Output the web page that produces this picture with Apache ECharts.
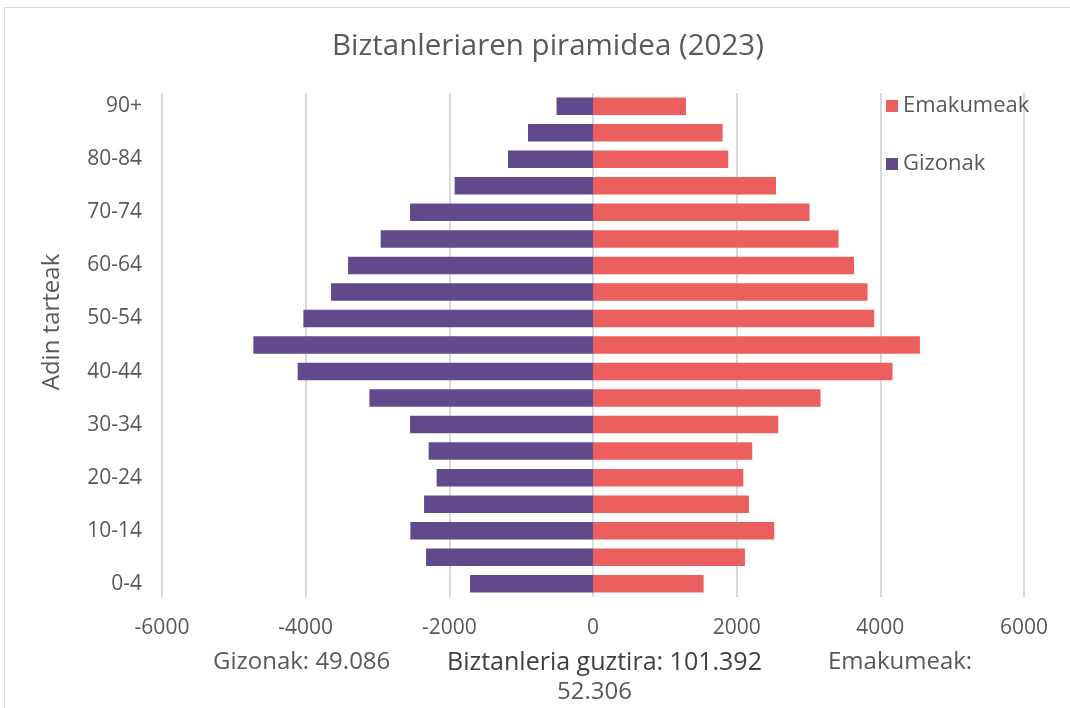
<!DOCTYPE html>
<html>
<head>
<meta charset="utf-8">
<script src="https://cdn.jsdelivr.net/npm/echarts@6/dist/echarts.min.js"></script>
<style>
  html, body { margin: 0; padding: 0; background: #fff; }
  #frame { position: absolute; left: 4px; top: 7px; width: 1080px; height: 720px; border: 1px solid #d9d9d9; }
  #chart { position: absolute; left: 0; top: 0; width: 1070px; height: 708px; }
</style>
</head>
<body>
<div id="frame"></div>
<div id="chart"></div>
<script>
// adin tarteak, behetik gora
const ageGroups = ['0-4', '5-9', '10-14', '15-19', '20-24', '25-29', '30-34', '35-39', '40-44', '45-49',
  '50-54', '55-59', '60-64', '65-69', '70-74', '75-79', '80-84', '85-89', '90+']
const men = [1712, 2324, 2543, 2352, 2177, 2288, 2547, 3113, 4111, 4728,
  4032, 3647, 3410, 2956, 2547, 1926, 1183, 905, 507]
const women = [1540, 2115, 2523, 2171, 2092, 2217, 2579, 3168, 4170, 4551,
  3915, 3822, 3633, 3418, 3015, 2547, 1883, 1804, 1294]
const xTicks = { min: -6000, max: 6000, interval: 2000 }

const TEXT = '#595959'
const FONT = '"Open Sans", sans-serif'

const chart = echarts.init(document.getElementById('chart'))

chart.setOption({
  animation: false,
  textStyle: { fontFamily: FONT },
  title: {
    text: 'Biztanleriaren piramidea (2023)',
    left: 327,
    top: 27,
    textStyle: { fontFamily: FONT, fontSize: 29.5, fontWeight: 'normal', color: TEXT },
  },
  legend: {
    orient: 'vertical',
    left: 881,
    top: 90,
    itemWidth: 12,
    itemHeight: 12,
    itemGap: 36,
    icon: 'rect',
    data: ['Emakumeak', 'Gizonak'],
    textStyle: { fontFamily: FONT, fontSize: 22, color: TEXT },
  },
  grid: { left: 162, right: 46, top: 93, bottom: 111 },
  xAxis: {
    type: 'value',
    min: xTicks.min,
    max: xTicks.max,
    interval: xTicks.interval,
    axisLine: { show: false },
    axisTick: { show: false },
    axisLabel: { fontFamily: FONT, fontSize: 21, color: TEXT, margin: 21, formatter: (v) => String(v) },
    splitLine: { lineStyle: { color: '#d9d9d9', width: 2 } },
  },
  yAxis: {
    type: 'category',
    data: ageGroups,
    axisLine: { show: false },
    axisTick: { show: false },
    axisLabel: { interval: 1, fontFamily: FONT, fontSize: 21, color: TEXT, margin: 20 },
  },
  series: [
    {
      name: 'Gizonak',
      type: 'bar',
      stack: 'pop',
      barCategoryGap: '34%',
      data: men.map((v) => -v),
      itemStyle: { color: '#614A8C' },
    },
    {
      name: 'Emakumeak',
      type: 'bar',
      stack: 'pop',
      barCategoryGap: '34%',
      data: women,
      itemStyle: { color: '#EB5F5E' },
    },
  ],
  graphic: [
    {
      // ardatzaren izenburua
      type: 'text', x: 52, y: 322, rotation: Math.PI / 2,
      style: { text: 'Adin tarteak', fontFamily: FONT, fontSize: 24, fill: TEXT, align: 'center', verticalAlign: 'middle' },
    },
    {
      type: 'text', left: 213, top: 650,
      style: { text: 'Gizonak: 49.086', fontFamily: FONT, fontSize: 24, fill: TEXT },
    },
    {
      type: 'text', left: 447, top: 650,
      style: { text: 'Biztanleria guztira: 101.392', fontFamily: FONT, fontSize: 25, fontWeight: 500, fill: '#404040' },
    },
    {
      type: 'text', left: 828, top: 650,
      style: { text: 'Emakumeak:', fontFamily: FONT, fontSize: 24, fill: TEXT },
    },
    {
      type: 'text', left: 557, top: 680,
      style: { text: '52.306', fontFamily: FONT, fontSize: 24, fill: TEXT },
    },
  ],
})
</script>
</body>
</html>
